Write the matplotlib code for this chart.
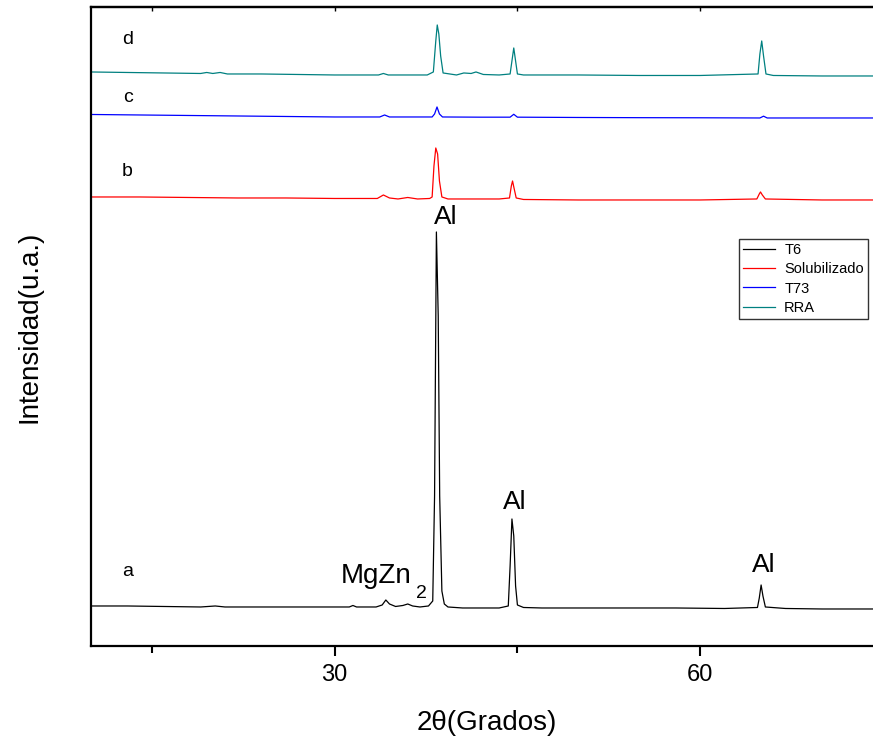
import matplotlib
matplotlib.use('Agg')
import matplotlib.pyplot as plt

plt.rcParams['font.family'] = ['Liberation Sans', 'DejaVu Sans']

# XRD patterns (2theta in degrees, stacked intensity in a.u.)
# a: T6
t6_x = [10, 13, 16, 19, 20.2, 21, 24, 27, 30, 31.2, 31.5, 31.8, 33.4, 33.9, 34.2, 34.5,
        35.0, 35.6, 36.0, 36.4, 37.0, 37.7, 38.05, 38.2, 38.35, 38.5, 38.62, 38.8, 39.0,
        39.3, 40.5, 42, 43.5, 44.25, 44.4, 44.55, 44.7, 44.85, 45.0, 45.5, 47, 50, 54,
        58, 62, 64.7, 64.85, 65.0, 65.15, 65.35, 67, 70, 74, 80]
t6_y = [40, 40, 39.5, 39, 40, 39, 39, 39, 39, 39, 40.5, 39, 39, 41, 46, 42,
        39.5, 40.5, 42, 40, 39, 40, 45, 150, 414, 330, 150, 55, 42,
        39, 38, 38, 38, 40, 80, 127, 110, 60, 41, 38.5, 38, 38, 38,
        38, 37.5, 38.5, 48, 61, 50, 39, 37.5, 37, 37, 37]

# b: Solubilizado
sol_x = [10, 14, 18, 22, 26, 30, 33.5, 34.0, 34.5, 35.2, 36.0, 36.8, 37.8, 38.0, 38.15,
         38.3, 38.45, 38.6, 38.8, 39.3, 41, 43.5, 44.35, 44.5, 44.6, 44.72, 44.9, 45.5,
         50, 55, 60, 64.65, 64.85, 64.95, 65.1, 65.35, 70, 75, 80]
sol_y = [449, 449, 448.5, 448, 448, 447.5, 447.5, 451, 448, 447, 448.5, 447, 447.5, 449, 480,
         498, 492, 465, 449, 447, 447, 447, 448, 460, 465, 458, 448, 446.5,
         446, 446, 446, 447, 452, 454, 451, 447, 446, 446, 446]

# c: T73
t73_x = [10, 14, 18, 22, 26, 30, 33.7, 34.1, 34.5, 38.0, 38.2, 38.4, 38.6, 38.85, 42,
         44.4, 44.7, 45.0, 50, 55, 60, 64.9, 65.2, 65.5, 70, 75, 80]
t73_y = [531.5, 531, 530.5, 530, 529.5, 529, 529, 531, 529, 529, 532, 539, 532, 529, 528.8,
         528.8, 531.7, 528.8, 528.5, 528.3, 528.2, 528, 529.8, 528, 528, 528, 528]

# d: RRA
rra_x = [10, 13, 16, 19, 19.5, 20, 20.6, 21.2, 24, 27, 30, 33.6, 34.0, 34.4, 37.6, 38.1,
         38.3, 38.42, 38.55, 38.7, 38.9, 40, 40.6, 41.2, 41.6, 42.2, 43.5, 44.4, 44.55,
         44.7, 44.85, 45.0, 45.5, 50, 55, 60, 64.75, 64.9, 65.05, 65.2, 65.4, 66,
         70, 75, 80]
rra_y = [574, 573.5, 573, 572.5, 573.5, 572.5, 573.5, 572, 572, 571.5, 571, 571, 572.5, 571, 571, 574,
         605, 621, 612, 590, 573, 571, 573, 572.5, 574, 571.5, 571, 572, 585,
         598, 585, 572, 571, 571, 570.5, 570.5, 572, 592, 605, 590, 572, 570.5,
         570, 570, 570]

series_labels = ['T6', 'Solubilizado', 'T73', 'RRA']
series_colors = ['black', 'red', 'blue', '#008080']

fig = plt.figure(figsize=(8.73, 7.42), dpi=100)
ax = fig.add_axes([0.1042, 0.1294, 0.9072, 0.8612])

for xs, ys, lab, col in zip([t6_x, sol_x, t73_x, rra_x], [t6_y, sol_y, t73_y, rra_y],
                            series_labels, series_colors):
    ax.plot(xs, ys, color=col, lw=0.9, label=lab)

ax.set_xlim(10, 75)
ax.set_ylim(0, 639)

# curve letters and phase labels
for letter, yy in [('a', 74), ('b', 474), ('c', 548), ('d', 606)]:
    ax.text(13.0, yy, letter, fontsize=14, ha='center', va='center')
ax.text(39.1, 429, 'Al', fontsize=19, ha='center', va='center')
ax.text(44.8, 144, 'Al', fontsize=19, ha='center', va='center')
ax.text(65.2, 81, 'Al', fontsize=19, ha='center', va='center')
ax.text(30.5, 70, 'MgZn', fontsize=20, ha='left', va='center')
ax.text(37.1, 52, '2', fontsize=14, ha='center', va='center')

ax.set_xticks([30, 60])
ax.set_xticks([15, 45], minor=True)
ax.set_yticks([])
ax.tick_params(axis='x', which='major', direction='out', length=7, width=1.5,
               labelsize=17, pad=6)
ax.tick_params(axis='x', which='minor', direction='out', length=5, width=1.5)
for s in ax.spines.values():
    s.set_linewidth(1.6)

# short inward ticks on the top frame
top = ax.secondary_xaxis('top')
top.set_xticks([15, 30, 45, 60])
top.tick_params(direction='in', length=3, width=1.0, labeltop=False)
top.spines['top'].set_linewidth(1.6)

ax.set_xlabel('2θ(Grados)', fontsize=20, labelpad=17)
ax.set_ylabel('Intensidad(u.a.)', fontsize=20, labelpad=35)

leg = ax.legend(loc='upper left', bbox_to_anchor=(0.8465, 0.678),
                bbox_transform=fig.transFigure, fontsize=10.5, frameon=True,
                fancybox=False, edgecolor='black', borderpad=0.3, labelspacing=0.35,
                handlelength=2.2, handletextpad=0.6, borderaxespad=0)
leg.get_frame().set_linewidth(1.0)

fig.savefig('out.png', dpi=100)
